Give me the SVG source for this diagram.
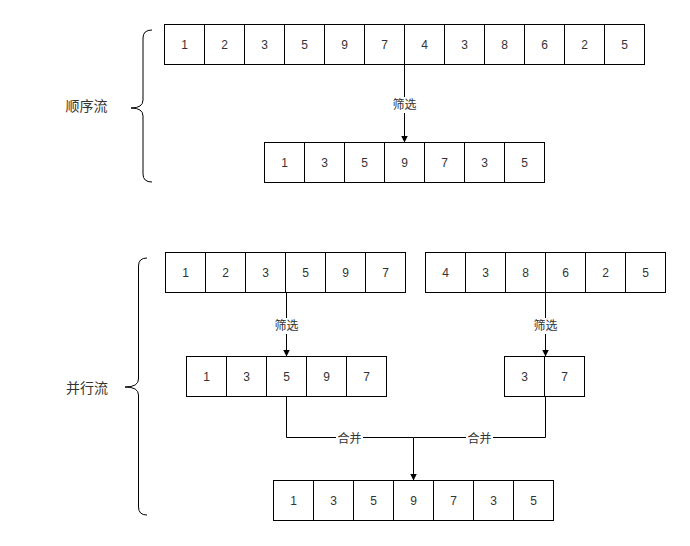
<svg xmlns="http://www.w3.org/2000/svg" width="690" height="546" viewBox="0 0 690 546">
<defs>
<style>
.c{fill:#fff;stroke:#000;stroke-width:1}
.t{font-family:"Liberation Sans","Noto Sans CJK SC",sans-serif;font-size:12px;fill:#333;text-anchor:middle;dominant-baseline:central}
.h{font-size:14px}
.l{fill:none;stroke:#000;stroke-width:1}
.b{fill:none;stroke:#000;stroke-width:1}
.lb{fill:#fff}
</style>
<marker id="a" viewBox="0 0 10 10" refX="10" refY="5" markerWidth="7" markerHeight="9" markerUnits="userSpaceOnUse" orient="auto"><path d="M0,0 L10,5 L0,10 Z" fill="#000"/></marker>
</defs>
<rect width="690" height="546" fill="#fff"/>

<g id="brace1"><path class="b" d="M152,30 Q143,30 143,38 L143,100 Q143,108 131,108 Q143,108 143,116 L143,174 Q143,182 152,182"/></g>
<g id="label1"><text class="t h" x="86.5" y="106">顺序流</text></g>
<g id="brace2"><path class="b" d="M147,258 Q138.5,258 138.5,266 L138.5,379 Q138.5,387 125,387 Q138.5,387 138.5,395 L138.5,507 Q138.5,515 147,515"/></g>
<g id="label2"><text class="t h" x="87" y="388">并行流</text></g>

<g id="row1">
<rect class="c" x="164.5" y="24.5" width="40" height="40"/><text class="t" x="184.5" y="45">1</text>
<rect class="c" x="204.5" y="24.5" width="40" height="40"/><text class="t" x="224.5" y="45">2</text>
<rect class="c" x="244.5" y="24.5" width="40" height="40"/><text class="t" x="264.5" y="45">3</text>
<rect class="c" x="284.5" y="24.5" width="40" height="40"/><text class="t" x="304.5" y="45">5</text>
<rect class="c" x="324.5" y="24.5" width="40" height="40"/><text class="t" x="344.5" y="45">9</text>
<rect class="c" x="364.5" y="24.5" width="40" height="40"/><text class="t" x="384.5" y="45">7</text>
<rect class="c" x="404.5" y="24.5" width="40" height="40"/><text class="t" x="424.5" y="45">4</text>
<rect class="c" x="444.5" y="24.5" width="40" height="40"/><text class="t" x="464.5" y="45">3</text>
<rect class="c" x="484.5" y="24.5" width="40" height="40"/><text class="t" x="504.5" y="45">8</text>
<rect class="c" x="524.5" y="24.5" width="40" height="40"/><text class="t" x="544.5" y="45">6</text>
<rect class="c" x="564.5" y="24.5" width="40" height="40"/><text class="t" x="584.5" y="45">2</text>
<rect class="c" x="604.5" y="24.5" width="40" height="40"/><text class="t" x="624.5" y="45">5</text>
</g>

<g id="row2">
<rect class="c" x="264.5" y="142.5" width="40" height="40"/><text class="t" x="284.5" y="163">1</text>
<rect class="c" x="304.5" y="142.5" width="40" height="40"/><text class="t" x="324.5" y="163">3</text>
<rect class="c" x="344.5" y="142.5" width="40" height="40"/><text class="t" x="364.5" y="163">5</text>
<rect class="c" x="384.5" y="142.5" width="40" height="40"/><text class="t" x="404.5" y="163">9</text>
<rect class="c" x="424.5" y="142.5" width="40" height="40"/><text class="t" x="444.5" y="163">7</text>
<rect class="c" x="464.5" y="142.5" width="40" height="40"/><text class="t" x="484.5" y="163">3</text>
<rect class="c" x="504.5" y="142.5" width="40" height="40"/><text class="t" x="524.5" y="163">5</text>
</g>

<g id="row3left">
<rect class="c" x="165.5" y="252.5" width="40" height="40"/><text class="t" x="185.5" y="273">1</text>
<rect class="c" x="205.5" y="252.5" width="40" height="40"/><text class="t" x="225.5" y="273">2</text>
<rect class="c" x="245.5" y="252.5" width="40" height="40"/><text class="t" x="265.5" y="273">3</text>
<rect class="c" x="285.5" y="252.5" width="40" height="40"/><text class="t" x="305.5" y="273">5</text>
<rect class="c" x="325.5" y="252.5" width="40" height="40"/><text class="t" x="345.5" y="273">9</text>
<rect class="c" x="365.5" y="252.5" width="40" height="40"/><text class="t" x="385.5" y="273">7</text>
</g>

<g id="row3right">
<rect class="c" x="425.5" y="252.5" width="40" height="40"/><text class="t" x="445.5" y="273">4</text>
<rect class="c" x="465.5" y="252.5" width="40" height="40"/><text class="t" x="485.5" y="273">3</text>
<rect class="c" x="505.5" y="252.5" width="40" height="40"/><text class="t" x="525.5" y="273">8</text>
<rect class="c" x="545.5" y="252.5" width="40" height="40"/><text class="t" x="565.5" y="273">6</text>
<rect class="c" x="585.5" y="252.5" width="40" height="40"/><text class="t" x="605.5" y="273">2</text>
<rect class="c" x="625.5" y="252.5" width="40" height="40"/><text class="t" x="645.5" y="273">5</text>
</g>

<g id="row4left">
<rect class="c" x="186.5" y="356.5" width="40" height="40"/><text class="t" x="206.5" y="377">1</text>
<rect class="c" x="226.5" y="356.5" width="40" height="40"/><text class="t" x="246.5" y="377">3</text>
<rect class="c" x="266.5" y="356.5" width="40" height="40"/><text class="t" x="286.5" y="377">5</text>
<rect class="c" x="306.5" y="356.5" width="40" height="40"/><text class="t" x="326.5" y="377">9</text>
<rect class="c" x="346.5" y="356.5" width="40" height="40"/><text class="t" x="366.5" y="377">7</text>
</g>

<g id="row4right">
<rect class="c" x="504.5" y="356.5" width="40" height="40"/><text class="t" x="524.5" y="377">3</text>
<rect class="c" x="544.5" y="356.5" width="40" height="40"/><text class="t" x="564.5" y="377">7</text>
</g>

<g id="row5">
<rect class="c" x="273.5" y="480.5" width="40" height="40"/><text class="t" x="293.5" y="501">1</text>
<rect class="c" x="313.5" y="480.5" width="40" height="40"/><text class="t" x="333.5" y="501">3</text>
<rect class="c" x="353.5" y="480.5" width="40" height="40"/><text class="t" x="373.5" y="501">5</text>
<rect class="c" x="393.5" y="480.5" width="40" height="40"/><text class="t" x="413.5" y="501">9</text>
<rect class="c" x="433.5" y="480.5" width="40" height="40"/><text class="t" x="453.5" y="501">7</text>
<rect class="c" x="473.5" y="480.5" width="40" height="40"/><text class="t" x="493.5" y="501">3</text>
<rect class="c" x="513.5" y="480.5" width="40" height="40"/><text class="t" x="533.5" y="501">5</text>
</g>

<g id="connectors">
<path class="l" d="M404.5,64.5 L404.5,142.5" marker-end="url(#a)"/>
<rect class="lb" x="391" y="97" width="27" height="16"/>
<text class="t" x="404.5" y="105">筛选</text>

<path class="l" d="M286.5,292.5 L286.5,356.5" marker-end="url(#a)"/>
<rect class="lb" x="273" y="318" width="27" height="16"/>
<text class="t" x="286.5" y="326">筛选</text>

<path class="l" d="M545.5,292.5 L545.5,356.5" marker-end="url(#a)"/>
<rect class="lb" x="532" y="318" width="27" height="16"/>
<text class="t" x="545.5" y="326">筛选</text>

<path class="l" d="M286.5,396.5 L286.5,437.5 L413.5,437.5 L413.5,480.5" marker-end="url(#a)"/>
<path class="l" d="M545.5,396.5 L545.5,437.5 L413.5,437.5"/>
<rect class="lb" x="336" y="432" width="27" height="14"/>
<text class="t" x="349.5" y="439">合并</text>
<rect class="lb" x="466" y="432" width="27" height="14"/>
<text class="t" x="479.5" y="439">合并</text>
</g>
</svg>
